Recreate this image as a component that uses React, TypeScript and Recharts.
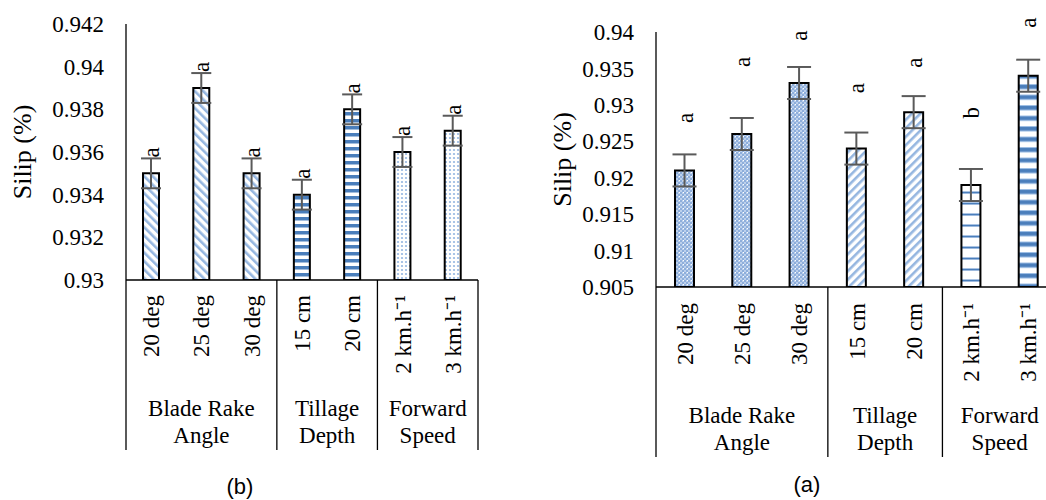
import { BarChart, Bar, XAxis, YAxis, ErrorBar, Cell, LabelList } from 'recharts'

const categories = ['20 deg', '25 deg', '30 deg', '15 cm', '20 cm', '2 km.h⁻¹', '3 km.h⁻¹']
const groupLabels = [
  ['Blade Rake', 'Angle'],
  ['Tillage', 'Depth'],
  ['Forward', 'Speed'],
]
const groupSizes = [3, 2, 2]

// chart (b)
const slipB = [0.935, 0.939, 0.935, 0.934, 0.938, 0.936, 0.937]
const errB = [0.0007, 0.0007, 0.0007, 0.0007, 0.0007, 0.0007, 0.0007]
const lettersB = ['a', 'a', 'a', 'a', 'a', 'a', 'a']
const ticksB = [0.93, 0.932, 0.934, 0.936, 0.938, 0.94, 0.942]

// chart (a)
const slipA = [0.921, 0.926, 0.933, 0.924, 0.929, 0.919, 0.934]
const errA = [0.0022, 0.0022, 0.0022, 0.0022, 0.0022, 0.0022, 0.0022]
const lettersA = ['a', 'a', 'a', 'a', 'a', 'b', 'a']
const letterPosA = [0.9282, 0.9359, 0.9395, 0.9323, 0.9358, 0.9289, 0.9413]
const ticksA = [0.905, 0.91, 0.915, 0.92, 0.925, 0.93, 0.935, 0.94]

const SERIF = 'Liberation Serif, Tinos, serif'
const SANS = 'Liberation Sans, Arimo, Arial, sans-serif'
const BLUE = '#4a7ebb'
const LIGHT = '#95b6e0'
const serifStyle = { fontFamily: SERIF }

const fillsB = ['b-diag', 'b-diag', 'b-diag', 'b-hstripe', 'b-hstripe', 'b-dots', 'b-dots']
const fillsA = ['a-check', 'a-check', 'a-check', 'a-diag', 'a-diag', 'a-thin', 'a-thick']

function Patterns() {
  return (
    <defs>
      <pattern id="b-diag" width="6" height="6" patternUnits="userSpaceOnUse" patternTransform="rotate(-45)">
        <rect width="6" height="6" fill="#fff" />
        <rect width="2.6" height="6" fill={LIGHT} />
      </pattern>
      <pattern id="a-diag" width="6" height="6" patternUnits="userSpaceOnUse" patternTransform="rotate(45)">
        <rect width="6" height="6" fill="#fff" />
        <rect width="2.6" height="6" fill={LIGHT} />
      </pattern>
      <pattern id="b-hstripe" width="7" height="7" patternUnits="userSpaceOnUse">
        <rect width="7" height="7" fill="#fff" />
        <rect y="0" width="7" height="3.5" fill={BLUE} />
      </pattern>
      <pattern id="b-dots" width="4" height="4" patternUnits="userSpaceOnUse">
        <rect width="4" height="4" fill="#fff" />
        <circle cx="2" cy="2" r="1.1" fill={LIGHT} />
      </pattern>
      <pattern id="a-check" width="4" height="4" patternUnits="userSpaceOnUse">
        <rect width="4" height="4" fill="#bcd0ec" />
        <rect x="0" y="0" width="2" height="2" fill="#8eaedb" />
        <rect x="2" y="2" width="2" height="2" fill="#8eaedb" />
        <rect x="3" y="0" width="1" height="1" fill="#fff" />
      </pattern>
      <pattern id="a-thin" width="11" height="11" patternUnits="userSpaceOnUse">
        <rect width="11" height="11" fill="#fff" />
        <rect y="4" width="11" height="3" fill="#c2d5ee" />
        <rect y="4.8" width="11" height="1.5" fill={BLUE} />
      </pattern>
      <pattern id="a-thick" width="10.5" height="10.5" patternUnits="userSpaceOnUse">
        <rect width="10.5" height="10.5" fill="#fff" />
        <rect y="0" width="10.5" height="5.5" fill="#9fbfe5" />
        <rect y="1" width="10.5" height="3.5" fill={BLUE} />
      </pattern>
    </defs>
  )
}

interface SlipChartProps {
  left: number
  values: number[]
  errors: number[]
  letters: string[]
  letterPos?: number[]
  ticks: number[]
  fills: string[]
  margin: { top: number; right: number; left: number; bottom: number }
  barSize: number
  capWidth: number
  catOffset: number
  titleX: number
  caption: string
  captionX: number
  captionY: number
}

function SlipChart(props: SlipChartProps) {
  const { values, errors, letters, letterPos, ticks, fills, margin } = props
  const width = 520
  const height = 500
  const yAxisWidth = 100
  const plotWidth = width - margin.left - margin.right - yAxisWidth
  const band = plotWidth / categories.length
  const min = ticks[0]
  const max = ticks[ticks.length - 1]

  const data = categories.map((c, i) => ({
    cat: c,
    slip: values[i],
    err: errors[i],
    letter: letters[i],
  }))

  const groupStart: number[] = []
  let acc = 0
  groupSizes.forEach((s) => {
    groupStart.push(acc)
    acc += s
  })

  const renderTick = (p: any) => {
    const { x, y, payload } = p
    const i = payload.index
    const g = groupStart.indexOf(i)
    const parts = []
    parts.push(
      <text
        key="t"
        transform={`translate(${x},${y + props.catOffset}) rotate(-90)`}
        textAnchor="end"
        dy="0.35em"
        style={serifStyle}
        fontSize={23}
        fill="#000"
      >
        {payload.value}
      </text>
    )
    if (g >= 0) {
      const lx = x - band / 2
      const cx = lx + (groupSizes[g] * band) / 2
      parts.push(<line key="l" x1={lx} x2={lx} y1={y} y2={y + 170} stroke="#000" strokeWidth={1.3} />)
      parts.push(
        <text key="g1" x={cx} y={y + 136} textAnchor="middle" style={serifStyle} fontSize={23} fill="#000">
          {groupLabels[g][0]}
        </text>
      )
      parts.push(
        <text key="g2" x={cx} y={y + 163} textAnchor="middle" style={serifStyle} fontSize={23} fill="#000">
          {groupLabels[g][1]}
        </text>
      )
    }
    if (i === categories.length - 1) {
      const rx = x + band / 2
      parts.push(<line key="r" x1={rx} x2={rx} y1={y} y2={y + 170} stroke="#000" strokeWidth={1.3} />)
    }
    return <g>{parts}</g>
  }

  const renderLetter = (p: any) => {
    const vb = p.viewBox ?? p
    const x = Number(p.x ?? vb.x)
    const y = Number(p.y ?? vb.y)
    const w = Number(p.width ?? vb.width)
    const h = Number(p.height ?? vb.height)
    const i = p.index
    const pxPer = h / (values[i] - min)
    const cx = x + w / 2
    if (letterPos) {
      const ly = y + h - (letterPos[i] - min) * pxPer
      return (
        <text
          transform={`translate(${cx},${ly}) rotate(-90)`}
          textAnchor="middle"
          dy="0.35em"
          style={serifStyle}
          fontSize={23}
          fill="#000"
        >
          {letters[i]}
        </text>
      )
    }
    const ly = y - errors[i] * pxPer - 1
    return (
      <text
        transform={`translate(${cx},${ly}) rotate(-90)`}
        textAnchor="start"
        dy="0.35em"
        style={serifStyle}
        fontSize={23}
        fill="#000"
      >
        {letters[i]}
      </text>
    )
  }

  return (
    <div style={{ position: 'absolute', left: props.left, top: 0, width, height }}>
      <BarChart
        width={width}
        height={height}
        data={data}
        margin={margin}
        barSize={props.barSize}
        style={serifStyle}
      >
        <Patterns />
        <XAxis
          dataKey="cat"
          height={170}
          interval={0}
          tickSize={0}
          tickMargin={0}
          tickLine={false}
          axisLine={{ stroke: '#000', strokeWidth: 1.3 }}
          tick={renderTick}
        />
        <YAxis
          width={yAxisWidth}
          domain={[min, max]}
          ticks={ticks}
          allowDataOverflow
          tickLine={false}
          tickSize={0}
          tickMargin={22}
          axisLine={{ stroke: '#000', strokeWidth: 1.3 }}
          tick={{ style: serifStyle, fontSize: 23, fill: '#000' }}
          tickFormatter={(v: number) => String(Number(v.toFixed(3)))}
          label={{
            content: (lp: any) => {
              const vb = lp.viewBox
              const tx = vb.x + props.titleX
              const ty = vb.y + vb.height / 2
              return (
                <text
                  transform={`translate(${tx},${ty}) rotate(-90)`}
                  textAnchor="middle"
                  dy="0.35em"
                  style={serifStyle}
                  fontSize={26}
                  fill="#000"
                >
                  Silip (%)
                </text>
              )
            },
          }}
        />
        <Bar dataKey="slip" stroke="#000" strokeWidth={2} isAnimationActive={false}>
          {data.map((d, i) => (
            <Cell key={d.cat} fill={`url(#${fills[i]})`} />
          ))}
          <ErrorBar dataKey="err" width={props.capWidth} stroke="#5a5a5a" strokeWidth={2} />
          <LabelList dataKey="letter" content={renderLetter} />
        </Bar>
      </BarChart>
      <div
        style={{
          position: 'absolute',
          left: props.captionX - 40,
          width: 80,
          top: props.captionY - 14,
          textAlign: 'center',
          fontFamily: SANS,
          fontSize: 22,
          color: '#000',
          lineHeight: '28px',
        }}
      >
        {props.caption}
      </div>
    </div>
  )
}

export default function App() {
  return (
    <div
      style={{
        position: 'absolute',
        left: 0,
        top: 0,
        width: 1046,
        height: 500,
        overflow: 'hidden',
        background: '#fff',
      }}
    >
      <SlipChart
        left={0}
        values={slipB}
        errors={errB}
        letters={lettersB}
        ticks={ticksB}
        fills={fillsB}
        margin={{ top: 24, right: 42, left: 26, bottom: 50 }}
        barSize={16}
        capWidth={10}
        catOffset={15}
        titleX={-4}
        caption="(b)"
        captionX={240}
        captionY={487}
      />
      <SlipChart
        left={540}
        values={slipA}
        errors={errA}
        letters={lettersA}
        letterPos={letterPosA}
        ticks={ticksA}
        fills={fillsA}
        margin={{ top: 32, right: 3, left: 16, bottom: 43 }}
        barSize={19}
        capWidth={12}
        catOffset={16}
        titleX={6}
        caption="(a)"
        captionX={267}
        captionY={485}
      />
    </div>
  )
}
